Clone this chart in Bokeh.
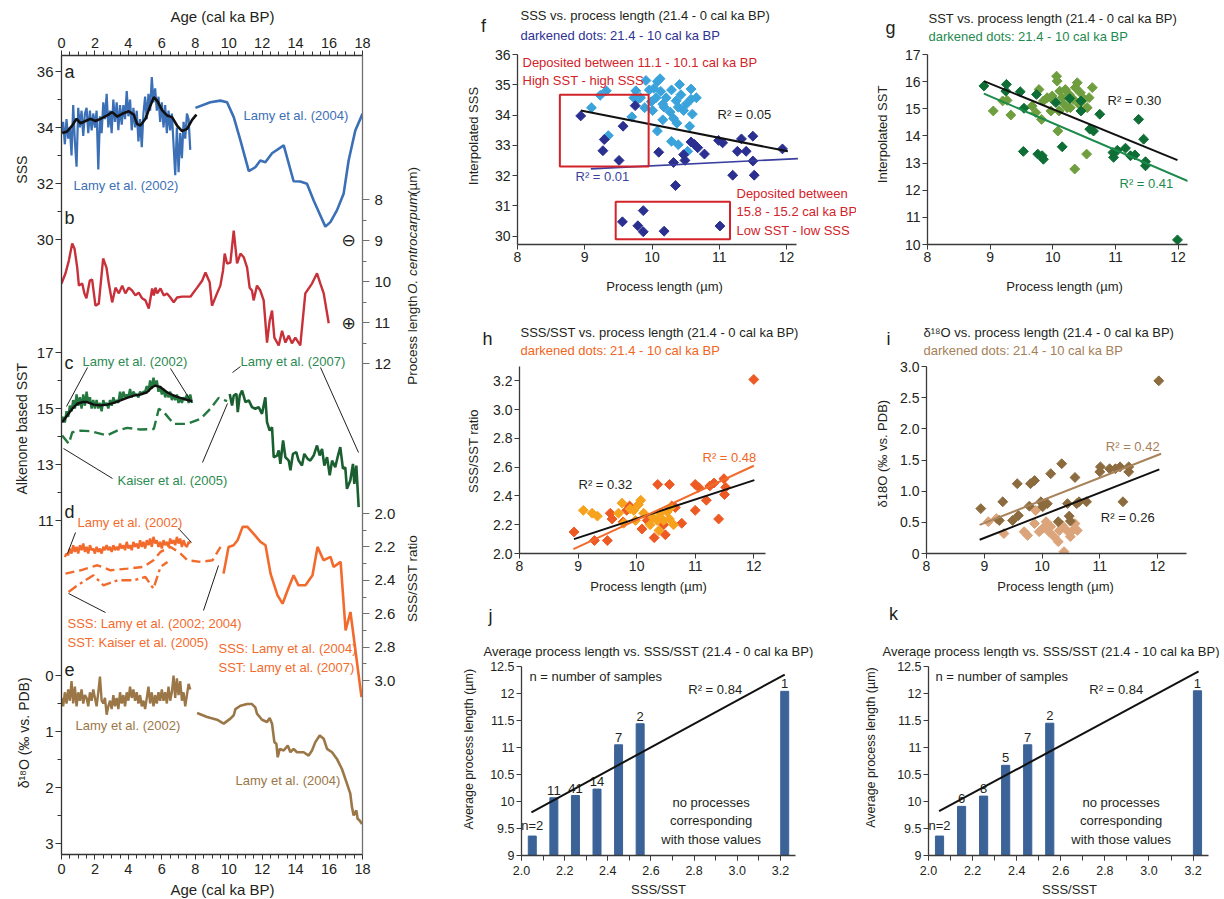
import numpy as np
from bokeh.plotting import figure
from bokeh.models import Range1d, LinearAxis, FixedTicker, Label, BoxAnnotation, NumeralTickFormatter
from bokeh.layouts import row, column
from bokeh.embed import file_html
from bokeh.resources import INLINE
from bokeh.core.properties import value

FONT = "Liberation Sans"
INK = "#231f20"

# ======================= LEFT COLUMN DATA =======================
sss02_age = [0.0, 0.1, 0.2, 0.3, 0.4, 0.5, 0.6, 0.7, 0.8, 0.9,
             1.0, 1.1, 1.2, 1.3, 1.4, 1.5, 1.6, 1.7, 1.8, 1.9,
             2.0, 2.1, 2.2, 2.3, 2.4, 2.5, 2.6, 2.7, 2.8, 2.9,
             3.0, 3.1, 3.2, 3.3, 3.4, 3.5, 3.6, 3.7, 3.8, 3.9,
             4.0, 4.1, 4.2, 4.3, 4.4, 4.5, 4.6, 4.7, 4.8, 4.9,
             5.0, 5.1, 5.2, 5.3, 5.4, 5.5, 5.6, 5.7, 5.8, 5.9,
             6.0, 6.1, 6.2, 6.3, 6.4, 6.5, 6.6, 6.7, 6.8, 6.9,
             7.0, 7.1, 7.2, 7.3, 7.4, 7.5, 7.6, 7.7]
sss02 = [33.8, 34.2, 33.4, 34.3, 33.6, 34.0, 33.0, 34.8, 33.5, 32.6,
         34.7, 34.0, 34.6, 33.7, 34.5, 34.7, 33.8, 34.6, 33.9, 34.5,
         34.0, 34.6, 32.5, 34.4, 33.8, 34.9, 34.3, 35.2, 34.0, 34.6,
         33.8, 35.0, 34.2, 34.9, 33.9, 34.8, 34.1, 34.8, 34.3, 35.3,
         34.4, 35.0, 33.9, 34.7, 34.0, 34.6, 33.5, 34.3, 33.3, 34.5,
         35.1, 34.3, 35.2, 34.6, 35.8, 34.9, 35.4, 34.6, 35.1, 34.2,
         34.9, 34.0, 34.8, 33.8, 34.6, 33.9, 34.5, 33.4, 32.3, 34.0,
         32.4, 33.8, 32.9, 34.2, 33.6, 34.5, 34.3, 33.2]
sss02_sm_age = [0.04, 0.34, 0.64, 0.90, 1.14, 1.43, 1.73, 2.03, 2.33, 2.73, 3.03, 3.33, 3.63, 4.02, 4.32,
                4.52, 4.72, 5.02, 5.32, 5.52, 5.72, 6.02, 6.31, 6.61, 6.91, 7.21, 7.51, 7.81, 8.07]
sss02_sm = [33.80, 33.86, 34.07, 34.31, 34.15, 34.23, 34.31, 34.23, 34.31, 34.43, 34.55, 34.39, 34.49, 34.58, 34.46,
            34.13, 34.07, 34.31, 34.79, 35.08, 34.96, 34.61, 34.43, 34.37, 34.07, 33.87, 33.95, 34.27, 34.46]
sss04_age = [8.01, 8.90, 9.50, 9.90, 10.30, 10.70, 11.20, 11.59, 11.89, 12.19, 12.59, 13.29, 13.88, 14.28,
             14.68, 15.08, 15.48, 15.78, 16.08, 16.47, 16.87, 17.17, 17.57, 18.0]
sss04 = [34.70, 34.90, 34.96, 34.90, 34.37, 33.54, 32.44, 32.58, 32.82, 32.76, 33.08, 33.36, 32.08, 32.07,
         31.99, 31.39, 30.86, 30.46, 30.62, 31.04, 31.63, 32.82, 33.89, 34.49]
pl_age = [0.00, 0.24, 0.44, 0.64, 0.78, 0.94, 1.04, 1.24, 1.37, 1.49, 1.69, 1.83, 2.03, 2.23, 2.49, 2.69,
          2.83, 3.03, 3.23, 3.43, 3.63, 3.82, 4.02, 4.22, 4.42, 4.62, 4.82, 5.02, 5.22, 5.42, 5.52, 5.62,
          5.72, 5.92, 6.12, 6.31, 6.51, 6.71, 6.91, 7.21, 7.71, 8.11, 8.41, 8.61, 8.86, 9.00, 9.30, 9.50,
          9.66, 9.76, 9.90, 10.10, 10.30, 10.50, 10.70, 10.90, 11.10, 11.25, 11.39, 11.49, 11.69, 11.89,
          12.09, 12.29, 12.45, 12.59, 12.73, 12.99, 13.19, 13.39, 13.59, 13.78, 13.98, 14.28, 14.58,
          14.98, 15.28, 15.48, 15.68, 15.98]
pl_len = [10.05, 9.80, 9.49, 9.07, 9.20, 9.66, 10.10, 10.05, 10.29, 10.41, 9.98, 9.95, 10.59, 10.54, 9.44, 9.66,
          10.05, 10.51, 10.15, 10.29, 10.10, 10.29, 10.15, 10.22, 10.34, 10.27, 10.41, 10.46, 10.66, 10.17, 10.34, 10.15,
          10.29, 10.17, 10.34, 10.29, 10.39, 10.51, 10.39, 10.37, 10.37, 10.15, 9.98, 9.78, 10.02, 10.59, 10.29, 10.10,
          9.73, 9.32, 9.56, 9.54, 8.76, 9.56, 9.32, 9.41, 9.66, 10.15, 10.22, 10.46, 10.10, 10.22,
          10.46, 11.49, 10.95, 10.71, 11.37, 11.56, 11.20, 11.49, 11.32, 11.51, 11.37, 11.56, 10.29,
          10.05, 9.80, 10.05, 10.29, 11.02]
sst02_age = [0.0, 0.1, 0.2, 0.3, 0.4, 0.5, 0.6, 0.7, 0.8, 0.9,
             1.0, 1.1, 1.2, 1.3, 1.4, 1.5, 1.6, 1.7, 1.8, 1.9,
             2.0, 2.1, 2.2, 2.3, 2.4, 2.5, 2.6, 2.7, 2.8, 2.9,
             3.0, 3.1, 3.2, 3.3, 3.4, 3.5, 3.6, 3.7, 3.8, 3.9,
             4.0, 4.1, 4.2, 4.3, 4.4, 4.5, 4.6, 4.7, 4.8, 4.9,
             5.0, 5.1, 5.2, 5.3, 5.4, 5.5, 5.6, 5.7, 5.8, 5.9,
             6.0, 6.1, 6.2, 6.3, 6.4, 6.5, 6.6, 6.7, 6.8, 6.9,
             7.0, 7.1, 7.2, 7.3, 7.4, 7.5, 7.6, 7.7, 7.8]
sst02 = [14.5, 14.7, 14.5, 14.9, 14.7, 15.1, 14.9, 15.3, 15.0, 15.5,
         15.1, 15.4, 15.0, 15.5, 15.1, 15.6, 15.2, 15.4, 15.0, 15.3,
         15.0, 15.3, 15.0, 15.2, 14.9, 15.3, 15.1, 15.2, 15.0, 15.3,
         15.1, 15.4, 15.2, 15.3, 15.2, 15.6, 15.3, 15.6, 15.4, 15.5,
         15.4, 15.7, 15.4, 15.6, 15.5, 15.5, 15.4, 15.6, 15.5, 15.6,
         15.6, 15.8, 15.6, 16.0, 15.7, 16.1, 15.8, 16.0, 15.6, 15.8,
         15.5, 15.7, 15.4, 15.6, 15.4, 15.6, 15.3, 15.5, 15.3, 15.5,
         15.2, 15.4, 15.2, 15.4, 15.3, 15.5, 15.2, 15.5, 15.2]
sst02_sm_age = [0.04, 0.34, 0.64, 0.94, 1.24, 1.53, 1.93, 2.33, 2.73, 3.13, 3.53, 3.92, 4.32, 4.72, 5.12,
                5.42, 5.62, 5.92, 6.31, 6.71, 7.11, 7.51, 7.81]
sst02_sm = [14.51, 14.75, 14.99, 15.17, 15.23, 15.23, 15.14, 15.11, 15.14, 15.20, 15.29, 15.38, 15.46, 15.50, 15.58,
            15.76, 15.82, 15.76, 15.58, 15.46, 15.38, 15.31, 15.26]
sst05_age = [0.04, 0.44, 0.64, 1.14, 1.73, 2.73, 3.33, 3.92, 4.72, 5.52, 5.82, 6.12, 6.71, 7.51, 8.31, 8.90, 9.40, 9.90]
sst05 = [14.04, 13.74, 14.15, 14.21, 14.19, 14.04, 14.21, 14.31, 14.25, 14.27, 14.99, 14.87, 14.45, 14.45, 14.63,
         14.99, 15.38, 15.26]
sst07_age = [10.06, 10.20, 10.30, 10.46, 10.54, 10.66, 10.80, 11.00, 11.20, 11.39, 11.59, 11.79, 11.99, 12.19,
             12.29, 12.45, 12.59, 12.69, 12.89, 12.99, 13.09, 13.25, 13.39, 13.59, 13.69, 13.84, 14.04, 14.18,
             14.38, 14.52, 14.72, 14.88, 15.08, 15.28, 15.44, 15.58, 15.72, 15.88, 16.04, 16.18, 16.37, 16.51,
             16.67, 16.83, 16.97, 17.07, 17.27, 17.43, 17.51, 17.63, 17.77]
sst07 = [15.52, 15.11, 15.46, 15.52, 14.87, 15.46, 15.64, 15.23, 15.29, 15.05, 14.99, 15.05, 14.81, 15.40,
         14.51, 14.21, 14.33, 13.26, 13.32, 13.50, 13.02, 13.86, 13.26, 13.14, 12.79, 13.38, 13.44, 13.14,
         12.96, 13.38, 13.20, 13.14, 13.32, 13.68, 13.32, 13.56, 12.96, 13.26, 12.61, 13.14, 12.90, 13.26,
         13.62, 12.85, 12.90, 12.13, 12.43, 13.02, 12.31, 12.96, 11.48]
rat02_age = [0.2, 0.3, 0.4, 0.5, 0.6, 0.7, 0.8, 0.9,
             1.0, 1.1, 1.2, 1.3, 1.4, 1.5, 1.6, 1.7, 1.8, 1.9,
             2.0, 2.1, 2.2, 2.3, 2.4, 2.5, 2.6, 2.7, 2.8, 2.9,
             3.0, 3.1, 3.2, 3.3, 3.4, 3.5, 3.6, 3.7, 3.8, 3.9,
             4.0, 4.1, 4.2, 4.3, 4.4, 4.5, 4.6, 4.7, 4.8, 4.9,
             5.0, 5.1, 5.2, 5.3, 5.4, 5.5, 5.6, 5.7, 5.8, 5.9,
             6.0, 6.1, 6.2, 6.3, 6.4, 6.5, 6.6, 6.7, 6.8, 6.9,
             7.0, 7.1, 7.2, 7.3, 7.4, 7.5, 7.6, 7.7]
rat02 = [2.26, 2.24, 2.25, 2.21, 2.24, 2.19, 2.23, 2.20,
         2.24, 2.19, 2.22, 2.18, 2.23, 2.20, 2.24, 2.19, 2.22, 2.21,
         2.24, 2.20, 2.23, 2.21, 2.24, 2.20, 2.22, 2.19, 2.22, 2.20,
         2.23, 2.19, 2.22, 2.20, 2.22, 2.18, 2.21, 2.19, 2.22, 2.17,
         2.21, 2.19, 2.22, 2.17, 2.20, 2.18, 2.21, 2.16, 2.20, 2.17,
         2.21, 2.16, 2.19, 2.15, 2.20, 2.14, 2.18, 2.16, 2.20, 2.17,
         2.21, 2.16, 2.19, 2.17, 2.20, 2.15, 2.18, 2.16, 2.19, 2.14,
         2.18, 2.15, 2.20, 2.16, 2.19, 2.20, 2.17, 2.18]
ratA_age = [0.24, 1.14, 2.15, 2.93, 3.95, 4.90, 5.50, 5.92, 6.52, 7.12, 7.54, 8.31, 9.03, 9.51]
ratA = [2.36, 2.34, 2.31, 2.34, 2.33, 2.32, 2.28, 2.23, 2.20, 2.24, 2.28, 2.29, 2.28, 2.20]
ratB_age = [0.42, 0.96, 1.91, 2.51, 3.35, 4.31, 5.02, 5.50, 5.92, 6.34]
ratB = [2.47, 2.43, 2.37, 2.43, 2.40, 2.40, 2.38, 2.45, 2.32, 2.29]
rat07_age = [9.69, 9.99, 10.29, 10.53, 10.83, 11.12, 11.48, 11.90, 12.20, 12.50, 12.92, 13.22, 13.52, 13.88,
             14.17, 14.59, 15.01, 15.31, 15.67, 16.09, 16.27, 16.69, 16.99, 17.28, 17.94]
rat07 = [2.36, 2.20, 2.19, 2.16, 2.08, 2.08, 2.12, 2.17, 2.19, 2.36, 2.49, 2.54, 2.46, 2.37,
         2.43, 2.43, 2.37, 2.20, 2.28, 2.26, 2.32, 2.29, 2.70, 2.59, 3.10]
d18_02_age = [0.0, 0.1, 0.2, 0.3, 0.4, 0.5, 0.6, 0.7, 0.8, 0.9,
              1.0, 1.1, 1.2, 1.3, 1.4, 1.5, 1.6, 1.7, 1.8, 1.9,
              2.0, 2.1, 2.2, 2.3, 2.4, 2.5, 2.6, 2.7, 2.8, 2.9,
              3.0, 3.1, 3.2, 3.3, 3.4, 3.5, 3.6, 3.7, 3.8, 3.9,
              4.0, 4.1, 4.2, 4.3, 4.4, 4.5, 4.6, 4.7, 4.8, 4.9,
              5.0, 5.1, 5.2, 5.3, 5.4, 5.5, 5.6, 5.7, 5.8, 5.9,
              6.0, 6.1, 6.2, 6.3, 6.4, 6.5, 6.6, 6.7, 6.8, 6.9,
              7.0, 7.1, 7.2, 7.3, 7.4, 7.5, 7.6, 7.7]
d18_02 = [0.40, 0.55, 0.30, 0.50, 0.25, 0.45, 0.10, 0.50, 0.20, 0.55,
          0.30, 0.45, 0.25, 0.50, 0.35, 0.40, 0.55, 0.30, 0.45, 0.25,
          0.40, 0.55, 0.30, 0.02, 0.45, 0.50, 0.40, 0.70, 0.55, 0.45,
          0.60, 0.35, 0.55, 0.40, 0.60, 0.30, 0.50, 0.35, 0.55, 0.30,
          0.45, 0.20, 0.40, 0.25, 0.45, 0.30, 0.50, 0.35, 0.55, 0.45,
          0.60, 0.40, 0.20, 0.50, 0.30, 0.55, 0.35, 0.50, 0.30, 0.45,
          0.25, 0.45, 0.30, 0.50, 0.20, 0.45, 0.30, 0.00, 0.40, 0.05,
          0.35, 0.10, 0.45, 0.30, 0.55, 0.35, 0.15, 0.25]
d18_04_age = [8.11, 8.71, 9.30, 9.70, 10.10, 10.30, 10.40, 10.70, 11.10, 11.39, 11.59, 11.69, 11.99, 12.29,
              12.45, 12.59, 12.73, 12.85, 12.93, 13.05, 13.29, 13.53, 13.69, 13.88, 14.08, 14.48, 14.78, 14.98,
              15.18, 15.44, 15.68, 15.88, 16.18, 16.47, 16.77, 17.07, 17.27, 17.37, 17.47, 17.63, 17.71, 17.83, 17.97]
d18_04 = [0.67, 0.74, 0.79, 0.86, 0.77, 0.71, 0.60, 0.54, 0.51, 0.51, 0.57, 0.68, 0.79, 0.83,
          0.76, 0.86, 1.19, 1.22, 1.46, 1.31, 1.34, 1.25, 1.37, 1.31, 1.37, 1.37, 1.43, 1.34,
          1.19, 1.07, 1.13, 1.31, 1.37, 1.49, 1.67, 1.93, 2.11, 2.35, 2.50, 2.41, 2.56, 2.59, 2.65]

# ======================= SCATTER DATA =======================
f_dark_x = [8.94, 9.75, 9.57, 9.29, 9.27, 9.51, 10.10, 10.32, 10.35, 10.47, 10.49, 10.58, 10.63, 10.68, 10.78,
            10.99, 11.05, 11.20, 11.27, 11.33, 11.40, 11.50, 11.50, 11.52, 11.94,
            9.56, 9.79, 9.87, 9.87, 10.18, 11.01]
f_dark_y = [33.97, 34.31, 33.63, 33.19, 32.82, 32.50, 32.77, 32.43, 31.67, 32.69, 32.50, 33.11, 33.03, 32.92, 32.71,
            33.16, 33.08, 32.01, 32.80, 33.21, 32.80, 33.30, 32.48, 32.01, 32.88,
            30.47, 30.34, 30.84, 30.14, 30.16, 30.33]
f_light_x = [9.10, 9.23, 9.32, 9.35, 9.70, 9.76, 9.73, 9.79, 9.83, 9.89, 9.91, 9.96, 9.99, 10.01, 10.03, 10.06,
             10.08, 10.12, 10.13, 10.16, 10.18, 10.08, 10.16, 10.21, 10.27, 10.29, 10.29, 10.32, 10.36, 10.37,
             10.39, 10.41, 10.43, 10.47, 10.51, 10.39, 10.53, 10.56, 10.58, 10.60, 10.66, 10.58]
f_light_y = [34.24, 34.65, 34.80, 33.32, 33.94, 34.80, 34.57, 34.52, 34.57, 34.24, 35.14, 34.83, 34.44, 34.15, 34.88, 34.57,
             35.11, 35.20, 34.78, 34.36, 34.26, 33.47, 33.84, 34.57, 34.10, 34.83, 33.13, 33.89, 34.47, 33.73,
             34.26, 35.01, 34.67, 34.15, 34.36, 33.02, 32.80, 33.63, 34.86, 34.03, 34.57, 34.52]
f_fit_all_x = [8.94, 12.02]
f_fit_all_y = [34.15, 32.80]
f_fit_dark_x = [9.09, 12.17]
f_fit_dark_y = [32.22, 32.56]

g_dark_x = [8.90, 9.26, 9.25, 9.48, 9.54, 9.53, 9.74, 9.76, 9.83, 9.85, 10.05, 10.15, 10.27, 10.45, 10.45,
            10.59, 10.65, 10.75, 10.96, 10.97, 11.03, 11.16, 11.24, 11.31, 11.37, 11.45, 11.48, 11.48, 11.99]
g_dark_y = [15.84, 15.90, 15.65, 15.63, 15.02, 13.43, 15.53, 13.33, 13.27, 13.14, 15.23, 13.60, 15.38, 15.29, 14.92,
            14.25, 14.18, 14.80, 13.39, 13.21, 13.47, 13.55, 13.27, 13.30, 14.61, 13.88, 13.05, 12.90, 10.17]
g_light_x = [9.05, 9.20, 9.27, 9.33, 9.67, 9.73, 9.78, 9.82, 9.85, 9.91, 9.97, 9.99, 10.02, 10.06, 10.07, 10.08,
             10.10, 10.11, 10.15, 10.18, 10.20, 10.26, 10.28, 10.33, 10.35, 10.36, 10.39, 10.42, 10.44, 10.50,
             10.54, 10.55, 10.58, 10.63, 10.23]
g_light_y = [14.92, 15.29, 15.31, 14.77, 15.10, 14.86, 15.71, 14.61, 15.29, 15.41, 14.92, 15.47, 15.29, 16.20, 16.02, 14.18,
             14.92, 15.65, 15.41, 15.16, 15.71, 15.53, 15.04, 15.35, 12.78, 15.78, 15.96, 15.16, 15.59, 15.35,
             13.33, 15.04, 15.41, 15.78, 15.04]
g_fit_all_x = [8.90, 11.99]
g_fit_all_y = [16.02, 13.11]
g_fit_dark_x = [8.90, 12.20]
g_fit_dark_y = [15.56, 12.29]

h_dark_x = [8.93, 9.28, 9.50, 9.55, 9.58, 9.77, 9.83, 9.88, 10.09, 10.18, 10.30, 10.36, 10.49, 10.46, 10.56,
            10.60, 10.66, 10.77, 11.00, 11.00, 11.06, 11.19, 11.25, 11.32, 11.40, 11.49, 11.50, 11.52, 12.00]
h_dark_y = [2.15, 2.09, 2.09, 2.28, 2.24, 2.22, 2.30, 2.33, 2.17, 2.23, 2.11, 2.48, 2.13, 2.20, 2.48,
            2.33, 2.32, 2.21, 2.48, 2.30, 2.46, 2.37, 2.47, 2.49, 2.24, 2.52, 2.41, 2.46, 3.21]
h_light_x = [9.09, 9.24, 9.33, 9.69, 9.75, 9.78, 9.89, 9.98, 10.03, 10.07, 10.12, 10.23, 10.28, 10.35, 10.38,
             10.40, 10.46, 10.52, 10.56, 10.63, 9.95, 10.58]
h_light_y = [2.30, 2.28, 2.26, 2.28, 2.35, 2.21, 2.31, 2.23, 2.34, 2.37, 2.28, 2.20, 2.25, 2.23, 2.16,
             2.28, 2.23, 2.29, 2.24, 2.20, 2.30, 2.32]
h_fit_all_x = [8.93, 12.01]
h_fit_all_y = [2.10, 2.51]
h_fit_dark_x = [8.92, 12.00]
h_fit_dark_y = [2.03, 2.61]

i_dark_x = [8.94, 9.26, 9.32, 9.49, 9.57, 9.59, 9.78, 9.80, 9.87, 9.98, 10.01, 10.09, 10.15, 10.28, 10.34, 10.44,
            10.47, 10.49, 10.57, 10.60, 10.64, 10.77, 11.00, 11.01, 11.17, 11.27, 11.35, 11.40, 11.50, 11.50, 12.02]
i_dark_y = [0.72, 0.53, 0.83, 0.53, 1.12, 0.61, 0.76, 1.12, 1.17, 0.83, 0.75, 0.80, 1.28, 0.51, 1.44, 0.80,
            0.60, 0.52, 1.22, 0.80, 0.83, 0.83, 1.31, 1.39, 1.36, 1.36, 1.39, 0.83, 1.31, 1.39, 2.77]
i_light_x = [9.07, 9.21, 9.34, 9.69, 9.75, 9.87, 9.89, 9.95, 10.01, 10.07, 10.12, 10.15, 10.21, 10.28, 10.30,
             10.35, 10.38, 10.43, 10.49, 10.53, 10.57, 10.61]
i_light_y = [0.51, 0.56, 0.32, 0.35, 0.29, 0.48, 0.69, 0.35, 0.40, 0.51, 0.35, 0.43, 0.27, 0.19, 0.37,
             0.45, 0.03, 0.37, 0.27, 0.37, 0.48, 0.37]
i_fit_all_x = [8.92, 12.03]
i_fit_all_y = [0.22, 1.35]
i_fit_dark_x = [8.92, 12.06]
i_fit_dark_y = [0.46, 1.60]

# ======================= BAR DATA =======================
bin_x = [2.05, 2.15, 2.25, 2.35, 2.45, 2.55, 3.22]
j_len = [9.36, 10.07, 10.11, 10.23, 11.05, 11.44, 12.04]
j_n = ["n=2", "11", "41", "14", "7", "2", "1"]
j_fit_x = [2.046, 3.22]
j_fit_y = [9.80, 12.35]
k_len = [9.36, 9.91, 10.10, 10.67, 11.05, 11.45, 12.05]
k_n = ["n=2", "6", "8", "5", "7", "2", "1"]
k_fit_x = [2.048, 3.225]
k_fit_y = [9.82, 12.41]

# ======================= COLOURS =======================
BLUE = "#3b6fb6"
RED = "#c8313a"
BOXRED = "#d2232a"
GREEN = "#2b8a4f"
GREEN_M = "#23793f"
GREEN_D = "#1a5f30"
ORANGE = "#f26b2d"
BROWN = "#9b7748"
BAR = "#3b6397"
HALF = np.pi / 2


def pair(a, b):
    n = min(len(a), len(b))
    return list(a[:n]), list(b[:n])


def add_label(p, x, y, s, size="13px", color=INK, align="left", angle=0.0, style="normal", font=FONT):
    p.add_layout(Label(x=x, y=y, text=s, text_font=font, text_font_size=size, text_color=color,
                       text_align=align, text_baseline="middle", angle=angle, text_font_style=style))


def make_strip(x0, y0, w, h):
    """Blank figure used to carry texts; coordinates = picture pixels."""
    p = figure(width=w, height=h, x_range=Range1d(x0, x0 + w), y_range=Range1d(y0 + h, y0),
               x_axis_location=None, y_axis_location=None, toolbar_location=None,
               output_backend="svg", min_border_left=0, min_border_right=0,
               min_border_top=0, min_border_bottom=0)
    p.title.visible = False
    p.grid.grid_line_color = None
    p.outline_line_color = None
    return p


def style_axis(ax, size, out=6, minor_out=4, standoff=3, color="#333333"):
    ax.axis_line_color = color
    ax.axis_line_width = 1.3
    ax.major_tick_line_color = color
    ax.minor_tick_line_color = color
    ax.major_tick_in = 0
    ax.major_tick_out = out
    ax.minor_tick_in = 0
    ax.minor_tick_out = minor_out
    ax.major_label_text_font = FONT
    ax.major_label_text_font_size = size
    ax.major_label_text_color = INK
    ax.major_label_standoff = standoff


# ======================= LEFT COLUMN =======================
FL, FR, FT, FB = 61, 362, 55, 854
MX, MY, MW, MH = 32, 28, 368, 854
pl = figure(width=MW, height=MH, x_range=Range1d(0, 18), y_range=Range1d(FB, FT),
            x_axis_location=None, y_axis_location=None, toolbar_location=None,
            output_backend="svg",
            min_border_left=FL - MX, min_border_right=MX + MW - FR,
            min_border_top=FT - MY, min_border_bottom=MY + MH - FB)
pl.title.visible = False
pl.grid.grid_line_color = None
pl.outline_line_color = None
PXU = (FR - FL) / 18.0


def LX(px):
    return (px - FL) / PXU


scales = {
    "sss": (36, 71, 30, 239),
    "pl": (8, 199, 12, 363),
    "sst": (17, 352, 11, 520),
    "ratio": (2.0, 513, 3.0, 680),
    "d18o": (0, 675, 3, 843),
}


def slope(k):
    v1, p1, v2, p2 = scales[k]
    return (p2 - p1) / (v2 - v1)


def pos(k, v):
    v1, p1, v2, p2 = scales[k]
    return float(round(p1 + (v - v1) * slope(k), 4))


extra = {}
for k, (v1, p1, v2, p2) in scales.items():
    s = slope(k)
    extra[k] = Range1d(start=v1 + (FB - p1) / s, end=v1 + (FT - p1) / s)
pl.extra_y_ranges = extra

left_major, left_minor, left_over = [], [], {}
for k, majors, minors in [("sss", [30, 32, 34, 36], [31, 33, 35]),
                          ("sst", [11, 13, 15, 17], [12, 14, 16]),
                          ("d18o", [0, 1, 2, 3], [0.5, 1.5, 2.5])]:
    for v in majors:
        pp = pos(k, v)
        left_major.append(pp)
        left_over[pp] = str(v)
    for v in minors:
        left_minor.append(pos(k, v))
right_major, right_minor, right_over = [], [], {}
for v in [8, 9, 10, 11, 12]:
    pp = pos("pl", v)
    right_major.append(pp)
    right_over[pp] = str(v)
for v in [8.5, 9.5, 10.5, 11.5]:
    right_minor.append(pos("pl", v))
for v in [2.0, 2.2, 2.4, 2.6, 2.8, 3.0]:
    pp = pos("ratio", v)
    right_major.append(pp)
    right_over[pp] = "{:.1f}".format(v)
for v in [2.1, 2.3, 2.5, 2.7, 2.9]:
    right_minor.append(pos("ratio", v))

ax_l = LinearAxis(ticker=FixedTicker(ticks=left_major, minor_ticks=left_minor),
                  major_label_overrides=left_over)
style_axis(ax_l, "15px", out=6, standoff=2)
pl.add_layout(ax_l, "left")
ax_r = LinearAxis(ticker=FixedTicker(ticks=right_major, minor_ticks=right_minor),
                  major_label_overrides=right_over)
style_axis(ax_r, "15px", out=7, standoff=5, color="#707070")
pl.add_layout(ax_r, "right")
age_ticks = FixedTicker(ticks=[0, 2, 4, 6, 8, 10, 12, 14, 16, 18],
                        minor_ticks=[i * 0.5 for i in range(37)])
ax_t = LinearAxis(ticker=age_ticks)
style_axis(ax_t, "14.5px", out=5, minor_out=4, standoff=3)
pl.add_layout(ax_t, "above")
ax_b = LinearAxis(ticker=age_ticks)
style_axis(ax_b, "14.5px", out=5, minor_out=4, standoff=4)
pl.add_layout(ax_b, "below")

x, y = pair(sss04_age, sss04)
pl.line(x, y, y_range_name="sss", line_color=BLUE, line_width=2.6)
x, y = pair(sss02_age, sss02)
pl.line(x, y, y_range_name="sss", line_color=BLUE, line_width=2.2)
x, y = pair(sss02_sm_age, sss02_sm)
pl.line(x, y, y_range_name="sss", line_color="#111111", line_width=2.6)
x, y = pair(pl_age, pl_len)
pl.line(x, y, y_range_name="pl", line_color=RED, line_width=2.4)
x, y = pair(sst05_age, sst05)
pl.line(x, y, y_range_name="sst", line_color=GREEN_M, line_width=2.4, line_dash="10 5")
x, y = pair(sst02_age, sst02)
pl.line(x, y, y_range_name="sst", line_color=GREEN_M, line_width=2.4)
x, y = pair(sst02_sm_age, sst02_sm)
pl.line(x, y, y_range_name="sst", line_color="#111111", line_width=2.4)
x, y = pair(sst07_age, sst07)
pl.line(x, y, y_range_name="sst", line_color=GREEN_D, line_width=2.6)
x, y = pair(rat02_age, rat02)
pl.line(x, y, y_range_name="ratio", line_color=ORANGE, line_width=2.4)
x, y = pair(ratA_age, ratA)
pl.line(x, y, y_range_name="ratio", line_color=ORANGE, line_width=2.4, line_dash="9 5")
x, y = pair(ratB_age, ratB)
pl.line(x, y, y_range_name="ratio", line_color=ORANGE, line_width=2.4, line_dash="10 4 3 4")
x, y = pair(rat07_age, rat07)
pl.line(x, y, y_range_name="ratio", line_color=ORANGE, line_width=2.6)
x, y = pair(d18_02_age, d18_02)
pl.line(x, y, y_range_name="d18o", line_color=BROWN, line_width=2.4)
x, y = pair(d18_04_age, d18_04)
pl.line(x, y, y_range_name="d18o", line_color=BROWN, line_width=2.6)


def ltxt(px, py, s, **kw):
    add_label(pl, LX(px), py, s, **kw)


lead_x0 = [66, 170, 232, 320, 63, 202, 67, 178, 68, 203]
lead_y0 = [406, 368, 372, 367, 448, 462, 553, 528, 593, 610]
lead_x1 = [87, 190, 240, 358, 112, 227, 75, 191, 105, 218]
lead_y1 = [367, 400, 366, 452, 478, 403, 532, 542, 612, 565]
pl.segment(x0=[LX(v) for v in lead_x0], y0=lead_y0, x1=[LX(v) for v in lead_x1], y1=lead_y1,
           line_color=INK, line_width=1)

for letter, yy in [("a", 71), ("b", 217), ("c", 362), ("d", 511), ("e", 669)]:
    ltxt(64, yy, letter, size="18px")
ltxt(243, 115, "Lamy et al. (2004)", color=BLUE)
ltxt(73, 185, "Lamy et al. (2002)", color=BLUE)
ltxt(82, 361, "Lamy et al. (2002)", color=GREEN)
ltxt(240, 361, "Lamy et al. (2007)", color=GREEN)
ltxt(117, 480, "Kaiser et al. (2005)", color=GREEN)
ltxt(77, 522, "Lamy et al. (2002)", color=ORANGE)
ltxt(67, 623, "SSS: Lamy et al. (2002; 2004)", color=ORANGE)
ltxt(67, 642, "SST: Kaiser et al. (2005)", color=ORANGE)
ltxt(218, 648, "SSS: Lamy et al. (2004)", color=ORANGE)
ltxt(218, 667, "SST: Lamy et al. (2007)", color=ORANGE)
ltxt(75, 725, "Lamy et al. (2002)", color=BROWN)
ltxt(235, 780, "Lamy et al. (2004)", color=BROWN)
ltxt(348, 239, "\u2296", size="17px", align="center", font="DejaVu Sans")
ltxt(348, 322, "\u2295", size="17px", align="center", font="DejaVu Sans")

LT = make_strip(0, 0, 430, 28)
add_label(LT, 222, 16, "Age (cal ka BP)", size="15px", align="center")
LB = make_strip(0, 882, 430, 17)
add_label(LB, 222, 889, "Age (cal ka BP)", size="15px", align="center")
LL = make_strip(0, 28, 32, 854)
add_label(LL, 21, 150, "SSS", size="14px", align="center", angle=HALF)
add_label(LL, 21, 427, "Alkenone based SST", size="14px", align="center", angle=HALF)
add_label(LL, 23, 752, "\u03b4\u00b9\u2078O (\u2030 vs. PDB)", size="14px", align="center", angle=HALF)
LR = make_strip(400, 28, 30, 854)
add_label(LR, 412, 380, "Process length", size="13.5px", angle=HALF)
add_label(LR, 412, 283, "O. centrocarpum", size="13.5px", angle=HALF, style="italic")
add_label(LR, 412, 177, "(\u00b5m)", size="13.5px", angle=HALF)
add_label(LR, 412, 587, "SSS/SST ratio", size="13.5px", align="center", angle=HALF)

left_col = column(LT, row(LL, pl, LR), LB)


# ======================= RIGHT PANELS =======================
def make_panel(ox, oy, W, H, fl, fr, ft, fb, xr, yr, xb=None, tick_size="14px"):
    p = figure(width=W, height=H, x_range=Range1d(*xr), y_range=Range1d(*yr),
               toolbar_location=None, output_backend="svg",
               min_border_left=fl - ox, min_border_right=ox + W - fr,
               min_border_top=ft - oy, min_border_bottom=oy + H - fb)
    p.title.visible = False
    p.grid.grid_line_color = None
    p.outline_line_color = None
    for ax in p.axis:
        style_axis(ax, tick_size, out=5, minor_out=0, standoff=2, color="#3a3a3a")
        ax.minor_tick_line_color = None
    if xb is not None:
        p.xaxis.bounds = xb

    def txt(px, py, s, **kw):
        xx = xr[0] + (px - fl) / (fr - fl) * (xr[1] - xr[0])
        yy = yr[1] - (py - ft) / (fb - ft) * (yr[1] - yr[0])
        add_label(p, xx, yy, s, **kw)
    return p, txt


def scat(p, xs, ys, color):
    xs, ys = pair(xs, ys)
    p.scatter(xs, ys, marker="square", angle=np.pi / 4, size=7, fill_color=color, line_color=color)


PL_LABEL = "Process length (\u00b5m)"

T1 = make_strip(430, 0, 792, 45)
add_label(T1, 483, 25, "f", size="18px", align="center")
add_label(T1, 520, 15, "SSS vs. process length (21.4 - 0 cal ka BP)")
add_label(T1, 520, 35, "darkened dots: 21.4 - 10 cal ka BP", color="#2e3192")
add_label(T1, 890, 27, "g", size="18px", align="center")
add_label(T1, 928, 18, "SST vs. process length (21.4 - 0 cal ka BP)")
add_label(T1, 928, 36, "darkened dots: 21.4 - 10 cal ka BP", color="#1f8a4f")

F_PX = 67.25
pf, tf = make_panel(487, 45, 369, 233, 517, 856, 54, 255,
                    (8, 8 + (856 - 517) / F_PX), (29.72, 36), xb=(8, 12.15))
pf.xaxis.ticker = FixedTicker(ticks=[8, 9, 10, 11, 12])
pf.yaxis.ticker = FixedTicker(ticks=[30, 31, 32, 33, 34, 35, 36])
scat(pf, f_light_x, f_light_y, "#3aa3dc")
scat(pf, f_dark_x, f_dark_y, "#2b3090")
pf.line(f_fit_all_x, f_fit_all_y, line_color="#111111", line_width=2)
pf.line(f_fit_dark_x, f_fit_dark_y, line_color="#3a3f9f", line_width=1.6)
box_left = [8.63, 9.46]
box_right = [9.95, 11.16]
box_top = [34.67, 31.13]
box_bottom = [32.30, 29.89]
for l, r, t, b in zip(box_left, box_right, box_top, box_bottom):
    pf.add_layout(BoxAnnotation(left=l, right=r, top=t, bottom=b, fill_color=None, fill_alpha=0,
                                line_color=BOXRED, line_alpha=1.0, line_width=2))
tf(522, 62, "Deposited between 11.1 - 10.1 cal ka BP", color=BOXRED)
tf(522, 81, "High SST - high SSS", color=BOXRED)
tf(736, 201, "Deposited between", color=BOXRED)
tf(736, 220, "15.8 - 15.2 cal ka BP", color=BOXRED)
tf(736, 240, "Low SST - low SSS", color=BOXRED)
tf(717, 118, "R\u00b2 = 0.05")
tf(575, 183, "R\u00b2 = 0.01", color="#3a3f9f")

SL1 = make_strip(430, 45, 57, 233)
add_label(SL1, 473, 145, "Interpolated SSS", align="center", angle=HALF)
SR1 = make_strip(856, 45, 41, 233)
add_label(SR1, 882, 143, "Interpolated SST", align="center", angle=HALF)

pg, tg = make_panel(897, 45, 325, 233, 927, 1187, 53, 244, (8, 12.15), (10, 17))
pg.xaxis.ticker = FixedTicker(ticks=[8, 9, 10, 11, 12])
pg.yaxis.ticker = FixedTicker(ticks=[10, 11, 12, 13, 14, 15, 16, 17])
scat(pg, g_light_x, g_light_y, "#6f9e3f")
scat(pg, g_dark_x, g_dark_y, "#0e6e35")
pg.line(g_fit_all_x, g_fit_all_y, line_color="#111111", line_width=2)
pg.line(g_fit_dark_x, g_fit_dark_y, line_color="#1c8a4b", line_width=2)
tg(1107, 99, "R\u00b2 = 0.30")
tg(1119, 183, "R\u00b2 = 0.41", color="#1f8a4f")

S1 = make_strip(430, 278, 792, 22)
add_label(S1, 664, 286, PL_LABEL, align="center")
add_label(S1, 1064, 286, PL_LABEL, align="center")

T2 = make_strip(430, 300, 792, 57)
add_label(T2, 487, 338, "h", size="18px", align="center")
add_label(T2, 520, 332, "SSS/SST vs. process length (21.4 - 0 cal ka BP)")
add_label(T2, 520, 350, "darkened dots: 21.4 - 10 cal ka BP", color="#f26522")
add_label(T2, 888, 338, "i", size="18px", align="center")
add_label(T2, 923, 332, "\u03b4\u00b9\u2078O vs. process length (21.4 - 0 cal ka BP)")
add_label(T2, 923, 350, "darkened dots: 21.4 - 10 cal ka BP", color="#a68059")

ph, th = make_panel(487, 357, 333, 221, 519, 765, 361, 554, (8, 12.2), (2.0, 3.3))
ph.xaxis.ticker = FixedTicker(ticks=[8, 9, 10, 11, 12])
ph.yaxis.ticker = FixedTicker(ticks=[2.0, 2.2, 2.4, 2.6, 2.8, 3.0, 3.2])
ph.yaxis.formatter = NumeralTickFormatter(format="0.0")
scat(ph, h_dark_x, h_dark_y, "#ee5a24")
scat(ph, h_light_x, h_light_y, "#f7a21d")
ph.line(h_fit_all_x, h_fit_all_y, line_color="#111111", line_width=2)
ph.line(h_fit_dark_x, h_fit_dark_y, line_color=ORANGE, line_width=2)
th(578, 483, "R\u00b2 = 0.32")
th(702, 455, "R\u00b2 = 0.48", color="#f26522")

SL2 = make_strip(430, 357, 57, 221)
add_label(SL2, 473, 457, "SSS/SST ratio", align="center", angle=HALF)
SR2 = make_strip(820, 357, 77, 221)
add_label(SR2, 882, 460, "\u03b418O (\u2030 vs. PDB)", align="center", angle=HALF)

pi_, ti = make_panel(897, 357, 325, 221, 925, 1186, 366, 553, (8, 12.5), (0, 3.0))
pi_.xaxis.ticker = FixedTicker(ticks=[8, 9, 10, 11, 12])
pi_.yaxis.ticker = FixedTicker(ticks=[0, 0.5, 1.0, 1.5, 2.0, 2.5, 3.0])
pi_.yaxis.formatter = NumeralTickFormatter(format="0.0")
pi_.yaxis.major_label_overrides = {0: "0"}
scat(pi_, i_light_x, i_light_y, "#dca47a")
scat(pi_, i_dark_x, i_dark_y, "#8c6b3e")
pi_.line(i_fit_all_x, i_fit_all_y, line_color="#111111", line_width=2)
pi_.line(i_fit_dark_x, i_fit_dark_y, line_color="#a7825a", line_width=2)
ti(1105, 446, "R\u00b2 = 0.42", color="#a68059")
ti(1100, 517, "R\u00b2 = 0.26")

S2 = make_strip(430, 578, 792, 18)
add_label(S2, 648, 586, PL_LABEL, align="center")
add_label(S2, 1055, 586, PL_LABEL, align="center")

T3 = make_strip(430, 596, 792, 62)
add_label(T3, 490, 615, "j", size="18px", align="center")
add_label(T3, 483, 651, "Average process length vs. SSS/SST (21.4 - 0 cal ka BP)")
add_label(T3, 893, 613, "k", size="18px", align="center")
add_label(T3, 882, 651, "Average process length vs. SSS/SST (21.4 - 10 cal ka BP)")


def bar_panel(ox, W, fl, fr, lens, counts, fitx, fity, nx, rx, npx):
    p, t = make_panel(ox, 658, W, 224, fl, fr, 666, 855, (2.0, 3.27), (9, 12.5), tick_size="12.5px")
    p.xaxis.ticker = FixedTicker(ticks=[2.0, 2.2, 2.4, 2.6, 2.8, 3.0, 3.2],
                                 minor_ticks=[2.0 + 0.1 * i for i in range(13)])
    p.xaxis.formatter = NumeralTickFormatter(format="0.0")
    p.xaxis.minor_tick_line_color = "#3a3a3a"
    p.xaxis.minor_tick_out = 5
    p.xaxis.minor_tick_in = 0
    p.xaxis.major_label_standoff = 5
    p.yaxis.ticker = FixedTicker(ticks=[9, 9.5, 10, 10.5, 11, 11.5, 12, 12.5])
    p.yaxis.formatter = NumeralTickFormatter(format="0.[0]")
    bx, bl = pair(bin_x, lens)
    p.vbar(x=bx, top=bl, bottom=9, width=0.037, fill_color=BAR, line_color=BAR)
    p.text(x=bx, y=bl, text=list(counts[:len(bx)]), y_offset=-3, text_align="center",
           text_baseline="bottom", text_font=value(FONT), text_font_size="13px", text_color=INK)
    p.line(fitx, fity, line_color="#111111", line_width=2)
    t(nx, 676, "n = number of samples")
    t(rx, 689, "R\u00b2 = 0.84")
    for yy, s in zip([802, 820, 839], ["no processes", "corresponding", "with those values"]):
        t(npx, yy, s, align="center")
    return p


pj = bar_panel(487, 333, 519, 795, j_len, j_n, j_fit_x, j_fit_y, 527, 687, 710)
pk = bar_panel(894, 328, 926, 1208, k_len, k_n, k_fit_x, k_fit_y, 933, 1088, 1120)

SL3 = make_strip(430, 658, 57, 224)
add_label(SL3, 468, 756, "Average process length (\u00b5m)", size="12.5px", align="center", angle=HALF)
SR3 = make_strip(820, 658, 74, 224)
add_label(SR3, 870, 754, "Average process length (\u00b5m)", size="12.5px", align="center", angle=HALF)

S3 = make_strip(430, 882, 792, 17)
add_label(S3, 658, 889, "SSS/SST", align="center")
add_label(S3, 1069, 889, "SSS/SST", align="center")

right_col = column(T1, row(SL1, pf, SR1, pg), S1,
                   T2, row(SL2, ph, SR2, pi_), S2,
                   T3, row(SL3, pj, SR3, pk), S3)

layout = row(left_col, right_col)
open("out.html", "w").write(file_html(layout, INLINE))
